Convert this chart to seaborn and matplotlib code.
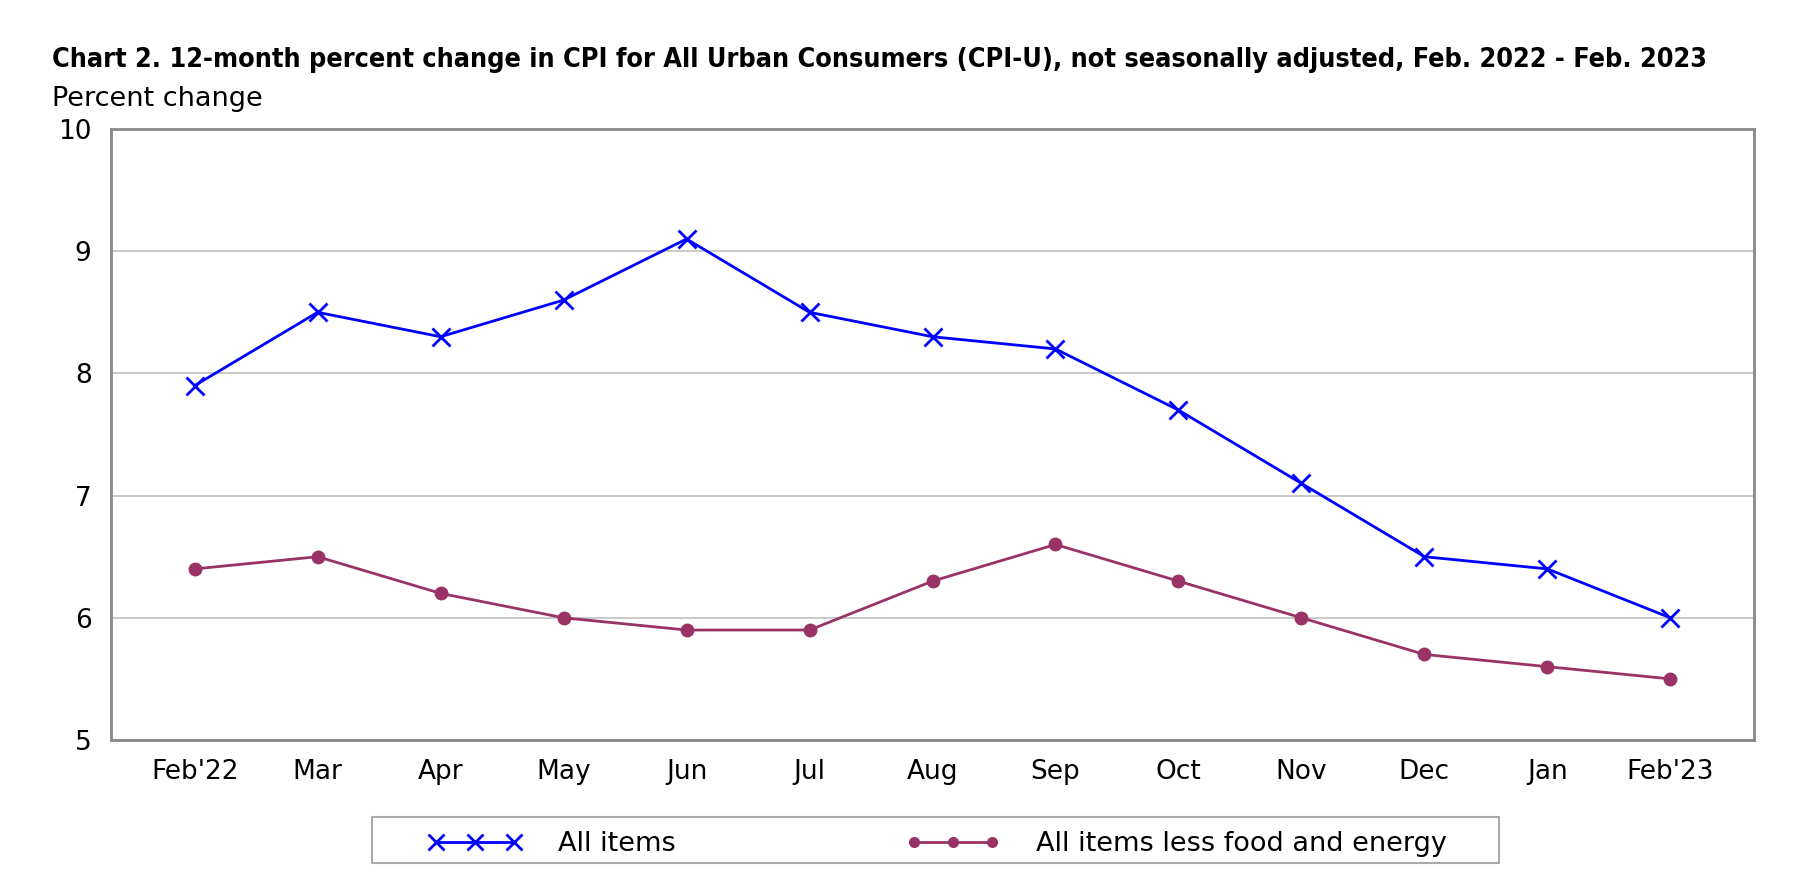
import pandas as pd
import numpy as np
import matplotlib
matplotlib.use("Agg")
import matplotlib.pyplot as plt
import seaborn as sns

# Chart data
months = ["Feb'22", "Mar", "Apr", "May", "Jun", "Jul", "Aug", "Sep", "Oct", "Nov", "Dec", "Jan", "Feb'23"]
all_items = [7.9, 8.5, 8.3, 8.6, 9.1, 8.5, 8.3, 8.2, 7.7, 7.1, 6.5, 6.4, 6.0]
core_items = [6.4, 6.5, 6.2, 6.0, 5.9, 5.9, 6.3, 6.6, 6.3, 6.0, 5.7, 5.6, 5.5]
series_names = ["All items", "All items less food and energy"]
y_ticks = [5, 6, 7, 8, 9, 10]

x = list(range(len(months)))
blue = "#0000FF"
purple = "#993366"
W, H = 1797, 893

sns.set_style("white")
plt.rcParams["font.family"] = ["DejaVu Sans"]
plt.rcParams["text.color"] = "black"

fig = plt.figure(figsize=(W / 100, H / 100), dpi=100)
ax = fig.add_axes([111 / W, 1 - 740 / H, (1754 - 111) / W, (740 - 129) / H])

# All items: blue with x markers
sns.lineplot(x=x, y=all_items, color=blue, marker="x", markersize=13,
             markeredgewidth=2.0, markeredgecolor=blue, linewidth=2, ax=ax)
# Core: purple with dots
sns.lineplot(x=x, y=core_items, color=purple, marker="o", markersize=10,
             markeredgewidth=0, markeredgecolor=purple, linewidth=2, ax=ax)

ax.set_xlim(-0.68, 12.68)
ax.set_ylim(5, 10)
ax.set_yticks(y_ticks)
ax.set_xticks(x)
ax.set_xticklabels(months)
ax.set_xlabel("")
ax.set_ylabel("")
ax.tick_params(axis="both", labelsize=19, colors="black")
ax.tick_params(axis="x", length=6, width=1.2, color="#888888", pad=8)
ax.tick_params(axis="y", length=0, pad=14)
ax.yaxis.grid(True, color="#c0c0c0", linewidth=1.2)
ax.set_axisbelow(True)
for sp in ax.spines.values():
    sp.set_color("#888888")
    sp.set_linewidth(2)

fig.text(52 / W, 1 - 60 / H,
         "Chart 2. 12-month percent change in CPI for All Urban Consumers (CPI-U), not seasonally adjusted, Feb. 2022 - Feb. 2023",
         fontsize=19.4, fontweight="bold", fontstretch="condensed", va="center", ha="left", color="black")
fig.text(52 / W, 1 - 99 / H, "Percent change", fontsize=19.5, va="center", ha="left", color="black")

# legend box drawn separately so padding matches the original
fig.patches.append(plt.Rectangle((372 / W, 1 - 863 / H), (1499 - 372) / W, 46 / H,
                                 transform=fig.transFigure, fill=False,
                                 edgecolor="#aaaaaa", linewidth=1.5))

handles = [
    plt.Line2D([], [], color=blue, marker="x", markersize=11, markeredgewidth=2, linewidth=2),
    plt.Line2D([], [], color=purple, marker="o", markersize=8, markeredgewidth=0, linewidth=2),
]
leg = fig.legend(handles, series_names, loc="center",
                 bbox_to_anchor=(937 / W, 1 - 844 / H),
                 ncol=2, numpoints=3, handlelength=3.5, columnspacing=8.5,
                 fontsize=19.5, frameon=False, handletextpad=1.3)

fig.savefig("out.png", dpi=100)
